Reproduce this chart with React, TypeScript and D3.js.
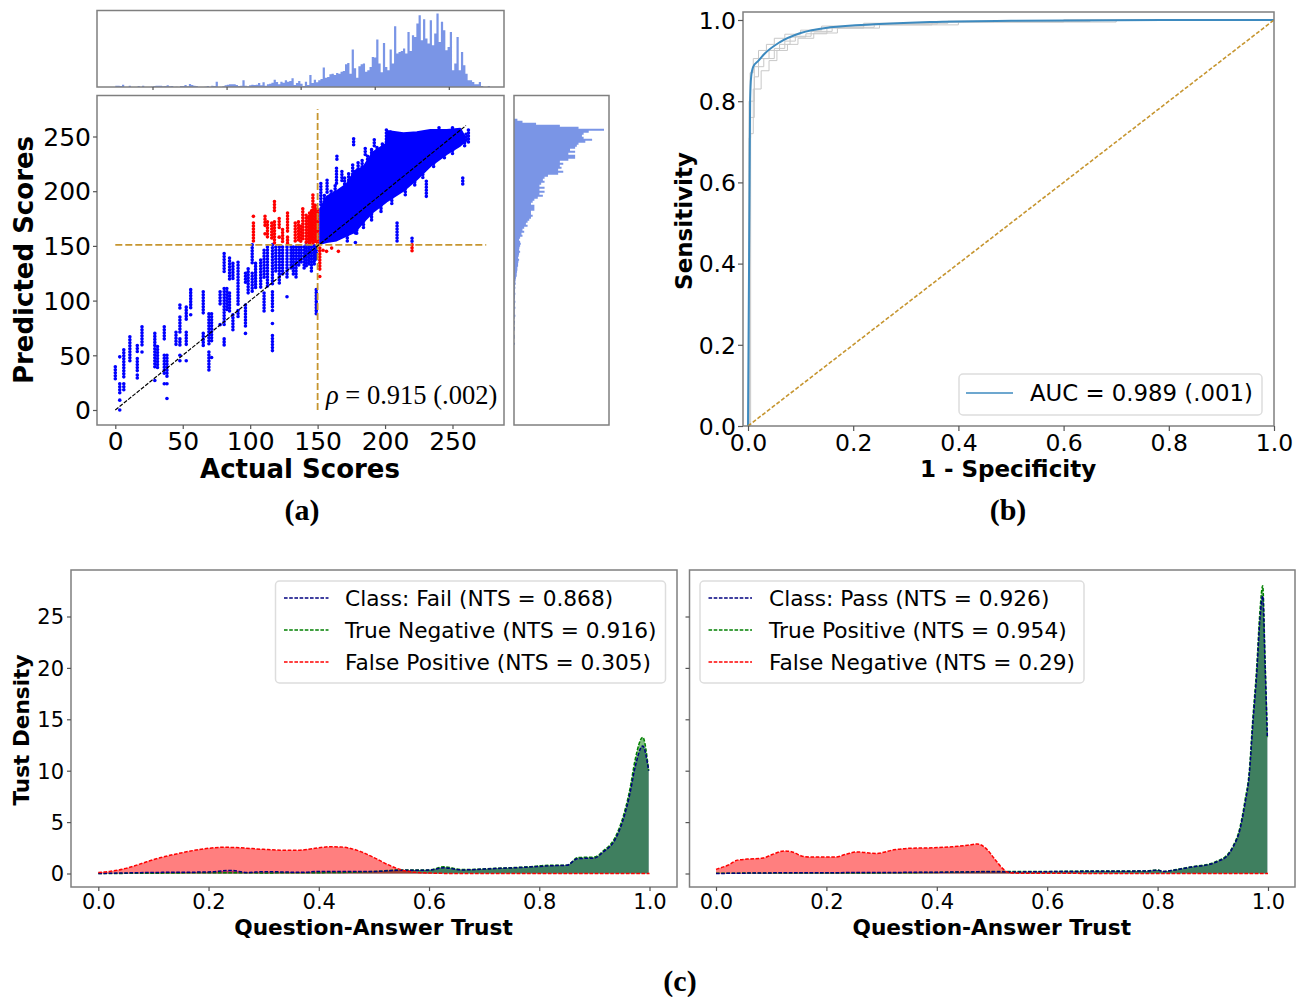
import { useEffect, useRef } from 'react';
import * as d3 from 'd3';

type Pt = [number, number];
type Run = [number, number, number];

// (a) marginal histograms, bar lengths
const topHistCounts = [
  4, 4, 3, 7, 0, 0, 4, 0, 0, 0, 3, 0, 4, 0, 0, 0, 1, 3, 4, 4, 4, 2, 3, 5, 2, 3, 0, 1, 0, 3, 3, 6,
  2, 9, 6, 4, 3, 0, 0, 0, 1, 3, 0, 4, 3, 16, 0, 0, 2, 5, 7, 8, 8, 8, 6, 3, 4, 20, 4, 2, 5, 7, 6, 7,
  12, 5, 14, 4, 8, 10, 13, 22, 15, 8, 16, 13, 20, 16, 18, 26, 6, 12, 18, 10, 3, 16, 6, 36, 12, 22, 14, 20, 24, 58, 28,
  30, 38, 40, 36, 42, 40, 46, 48, 68, 72, 40, 112, 56, 28, 62, 68, 70, 46, 50, 60, 90, 88, 142, 70, 44, 132, 60, 50,
  112, 70, 182, 100, 105, 108, 115, 100, 165, 108, 155, 150, 190, 215, 140, 203, 145, 130, 200, 125, 160, 220, 135,
  195, 170, 110, 120, 165, 50, 70, 150, 50, 105, 65, 40, 20, 20, 15, 8, 8, 15, 3, 0, 0, 3,
];
const rightHistCounts = [
  10, 25, 65, 135, 190, 265, 220, 205, 200, 205, 230, 210, 190, 185, 180, 165, 180, 160, 180, 180, 160, 135, 145, 135,
  140, 130, 145, 130, 100, 90, 85, 90, 80, 75, 90, 75, 90, 75, 85, 70, 60, 55, 50, 60, 60, 60, 50, 50, 55, 50, 45, 40,
  35, 40, 30, 25, 30, 22, 25, 18, 15, 18, 20, 18, 16, 15, 18, 15, 14, 12, 15, 13, 12, 12, 10, 10, 9, 8, 8, 6, 5, 4, 5,
  3, 4, 3, 3, 4, 3, 3, 2, 4, 3, 2, 4, 2, 2, 2, 4, 2, 0, 3, 2, 0, 3, 2, 0, 0, 2, 2, 0, 0, 3, 0, 3,
];

// (a) dense blue band: actual score with the top and bottom predicted score
const bandActual = [151.9, 156.8, 164, 171.6, 177.8, 184, 191, 200.5, 201.5, 213.6, 223.6, 233.6, 245.8, 255.7, 258.7];
const bandTop = [184, 195, 200, 206.6, 218.8, 222, 235.6, 243, 255, 253, 254, 256, 256, 257, 250.7];
const bandBottom = [152, 153.5, 155, 159.5, 162.8, 172, 181, 190, 191, 200.5, 211, 223, 234, 241.7, 245];

// (a) columns of points: [actual, predicted from, predicted to]
const bandEdgeRuns: Run[] = [
  [155, 196, 188], [160, 200, 190], [163, 205, 195], [170, 212, 200], [173, 216, 205], [176, 224, 212], [180, 226, 215], [183, 228, 220],
  [187, 232, 224], [190, 238, 230], [194, 240, 233], [198, 243, 236], [201, 256, 244], [204, 254, 245], [240, 258, 250], [250, 258, 250],
  [260, 252, 245], [259, 247, 240], [250, 240, 232], [244, 236, 228], [236, 228, 220], [228, 218, 210], [222, 214, 205], [215, 205, 196],
  [205, 197, 188], [197, 187, 180], [190, 182, 173], [184, 175, 165], [178, 170, 160], [172, 160, 153],
];
const lowScoreRuns: Run[] = [
  [0, 39.5, 26], [3.3, 48.6, 48.6], [3.3, 24, 15], [3.3, 9, 9], [3.3, 0, 0], [6.3, 55, 30], [6.3, 24, 18], [10.8, 67, 44],
  [16.3, 59, 52], [16.3, 47, 36], [16.3, 32, 27], [19.8, 76, 59], [19.8, 53, 53], [29.3, 70, 59], [29.3, 56, 38], [29.3, 27, 27],
  [31.3, 58, 38], [36.3, 76, 64], [36.3, 50, 33], [36.3, 24, 24], [38.3, 50, 30], [38.3, 24, 24], [38.3, 10.5, 10.5],
  [45, 71, 59], [47.9, 96, 93], [47.9, 85, 70], [47.9, 65, 59], [47.9, 50, 50], [47.9, 45, 45], [52.6, 94, 82], [52.6, 71, 59],
  [52.6, 45, 42.5], [55.9, 110, 93], [55.9, 87, 87], [65.2, 108, 88], [65.2, 70, 58], [69.4, 88, 59], [69.4, 53, 36],
  [71.4, 88, 61], [71.4, 48, 48], [77.7, 108, 96], [77.7, 78, 78], [80.7, 143, 125], [80.7, 111, 76], [80.7, 65, 59],
  [82.7, 111, 91], [84.7, 139, 119], [84.7, 107, 88], [87.2, 134, 119], [87.2, 87, 73], [91, 135, 96], [91, 91, 84],
  [96.5, 125, 116], [96.5, 96, 76], [96.5, 70, 70],
];
const midScoreRuns: Run[] = [
  [98.5, 129, 107], [101.5, 151, 134], [101.5, 125, 107], [104, 134, 111], [107.8, 137, 111], [110.3, 146, 119], [110.3, 107, 88],
  [112.8, 149, 113], [116.5, 151, 114], [116.5, 108, 94], [116.5, 91, 91], [116.5, 79, 77], [116.5, 68, 52], [119, 149, 125],
  [121.6, 149, 114], [124, 149, 122], [127.3, 149, 120], [127.3, 103.5, 103.5], [130.3, 149, 128], [132, 149, 124], [134, 149, 120],
  [136, 149, 130], [137.8, 149, 133], [140, 149, 128], [141.6, 151, 131], [143.5, 150, 131], [145.4, 149, 126], [147.5, 150, 132],
  [149, 110, 88], [149, 149, 137],
];
const upperOutlierRuns: Run[] = [
  [176.7, 248, 242], [192, 247, 241], [185.3, 239, 232], [164.3, 232, 227], [164, 221, 207], [168, 218, 209], [157, 210, 198],
  [152.4, 207, 187], [230.6, 209, 195], [257.6, 212, 204], [261.8, 256, 244], [208.9, 171, 152], [178, 153, 153], [179, 167, 161],
  [220, 157, 154],
];
const redRuns: Run[] = [
  [102.4, 177, 177], [102.4, 171, 152], [111, 177, 168], [111, 161, 161], [112.8, 172, 158], [116, 171, 155], [118, 190.5, 181],
  [118, 172, 152], [121.5, 175, 164.5], [121.5, 158, 158], [124, 165, 152], [127.7, 180, 161], [127.7, 158, 152], [133.4, 171, 154],
  [135.8, 172, 154], [137.5, 168, 153], [139, 184, 154], [141.5, 178, 152], [143, 176, 152], [144, 180, 152], [145.5, 182, 152],
  [146.5, 196.5, 152], [148.2, 187, 152], [150, 183, 152],
];
const redLowerRuns: Run[] = [
  [151.6, 148, 128], [151.6, 122, 122], [154, 146, 146], [156.6, 145, 145], [160.4, 148, 148], [165.4, 145, 145], [220, 151, 143],
];

// (b) ROC curves as [1 - specificity, sensitivity]
const rocMean: Pt[] = [
  [0, 0], [0.003, 0.6], [0.004, 0.8], [0.006, 0.86], [0.01, 0.885], [0.02, 0.9], [0.03, 0.915], [0.06, 0.945], [0.1, 0.968],
  [0.156, 0.982], [0.25, 0.99], [0.346, 0.995], [0.5, 0.998], [0.8, 1], [1, 1],
];
const rocFoldA: Pt[] = [[0, 0], [0.002, 0.71], [0.005, 0.8], [0.012, 0.885], [0.02, 0.905], [0.04, 0.925], [0.06, 0.94], [0.08, 0.958], [0.11, 0.966], [0.15, 0.98], [0.22, 0.988], [0.35, 0.995], [0.6, 1], [1, 1]];
const rocFoldB: Pt[] = [[0, 0], [0.005, 0.72], [0.01, 0.83], [0.025, 0.875], [0.04, 0.9], [0.055, 0.925], [0.075, 0.94], [0.095, 0.955], [0.125, 0.968], [0.17, 0.98], [0.25, 0.988], [0.4, 0.996], [0.65, 1], [1, 1]];
const rocFoldC: Pt[] = [[0, 0], [0.002, 0.8], [0.004, 0.87], [0.01, 0.905], [0.02, 0.925], [0.035, 0.94], [0.05, 0.955], [0.07, 0.965], [0.1, 0.975], [0.14, 0.985], [0.22, 0.992], [0.38, 0.997], [0.6, 1], [1, 1]];
const rocFoldD: Pt[] = [[0, 0], [0.003, 0.76], [0.012, 0.86], [0.02, 0.885], [0.03, 0.905], [0.05, 0.93], [0.07, 0.948], [0.09, 0.96], [0.12, 0.972], [0.16, 0.982], [0.24, 0.99], [0.36, 0.995], [0.7, 1], [1, 1]];

// (c) trust densities as [trust, density]
const failClass: Pt[] = [
  [0, 0], [0.1, 0.1], [0.2, 0.15], [0.24, 0.3], [0.27, 0.1], [0.3, 0.18], [0.37, 0.12], [0.4, 0.2], [0.5, 0.2], [0.55, 0.32], [0.6, 0.33],
  [0.627, 0.55], [0.66, 0.35], [0.72, 0.48], [0.78, 0.62], [0.82, 0.75], [0.85, 0.8], [0.87, 1.45], [0.9, 1.5], [0.9162, 2.1], [0.9375, 3.3],
  [0.952, 5.2], [0.9646, 7.8], [0.9737, 10.3], [0.9877, 12.4], [0.9985, 10],
];
const trueNegative: Pt[] = [
  [0, 0], [0.1, 0.03], [0.2, 0.08], [0.3, 0.06], [0.4, 0.08], [0.5, 0.2], [0.55, 0.35], [0.6, 0.35], [0.627, 0.65], [0.66, 0.38], [0.72, 0.5],
  [0.78, 0.65], [0.82, 0.8], [0.85, 0.8], [0.87, 1.55], [0.9, 1.6], [0.9162, 2.2], [0.9375, 3.5], [0.952, 5.5], [0.9646, 8.25], [0.9737, 11],
  [0.9877, 13.25], [0.9985, 10],
];
const falsePositive: Pt[] = [
  [0, 0.1], [0.02, 0.2], [0.05, 0.5], [0.08, 1], [0.1, 1.35], [0.15, 2], [0.2, 2.45], [0.225, 2.55], [0.25, 2.52], [0.3, 2.35], [0.33, 2.27],
  [0.36, 2.25], [0.39, 2.42], [0.42, 2.6], [0.44, 2.58], [0.47, 2.25], [0.5, 1.55], [0.53, 0.75], [0.55, 0.35], [0.57, 0.15], [0.6, 0.05], [0.65, 0], [1, 0],
];
const passClass: Pt[] = [
  [0, 0], [0.1, 0.06], [0.2, 0.08], [0.3, 0.1], [0.45, 0.15], [0.5, 0.18], [0.53, 0.15], [0.6, 0.18], [0.7, 0.22], [0.78, 0.24], [0.8, 0.33], [0.81, 0.2],
  [0.84, 0.42], [0.864, 0.65], [0.895, 0.9], [0.91, 1.2], [0.925, 1.65], [0.937, 2.6], [0.9493, 4.3], [0.9583, 6.8], [0.9662, 9.7], [0.9723, 14.4],
  [0.9795, 19.4], [0.9855, 24.8], [0.9904, 27], [0.9946, 20.5], [0.9988, 13.2],
];
const truePositive: Pt[] = [
  [0, 0.02], [0.1, 0.05], [0.3, 0.06], [0.45, 0.15], [0.5, 0.2], [0.53, 0.2], [0.6, 0.2], [0.7, 0.25], [0.78, 0.25], [0.8, 0.35], [0.81, 0.2],
  [0.84, 0.45], [0.864, 0.68], [0.895, 0.94], [0.91, 1.26], [0.925, 1.75], [0.937, 2.7], [0.9493, 4.5], [0.9583, 7.1], [0.9662, 10], [0.9723, 14.9],
  [0.9795, 20], [0.9855, 25.6], [0.9904, 28], [0.9946, 21], [0.9988, 13.3],
];
const falseNegative: Pt[] = [
  [0, 0.4], [0.021, 0.8], [0.039, 1.3], [0.057, 1.4], [0.085, 1.5], [0.102, 1.85], [0.124, 2.2], [0.138, 2.1], [0.159, 1.65], [0.18, 1.6], [0.216, 1.6],
  [0.237, 1.9], [0.254, 2.1], [0.29, 1.95], [0.322, 2.3], [0.35, 2.45], [0.392, 2.5], [0.428, 2.6], [0.456, 2.75], [0.473, 2.87], [0.488, 2.5],
  [0.505, 1.4], [0.519, 0.5], [0.53, 0.1], [0.555, 0.02], [1, 0],
];

const scoreTicks = [0, 50, 100, 150, 200, 250];
const rateTicks = [0, 0.2, 0.4, 0.6, 0.8, 1];
const densityTicks = [0, 5, 10, 15, 20, 25];
const failLegend = ['Class: Fail (NTS = 0.868)', 'True Negative (NTS = 0.916)', 'False Positive (NTS = 0.305)'];
const passLegend = ['Class: Pass (NTS = 0.926)', 'True Positive (NTS = 0.954)', 'False Negative (NTS = 0.29)'];

const SANS = '"DejaVu Sans", sans-serif';
const SERIF = '"Liberation Serif", serif';
const SPINE = '#7f7f7f';
const HIST = '#7a95e6';
const ORANGE = '#c6952f';
const LEGEND_EDGE = '#dddddd';

type Sel = d3.Selection<SVGGElement, unknown, null, undefined>;

function frame(g: Sel, x0: number, y0: number, x1: number, y1: number) {
  g.append('rect')
    .attr('x', x0).attr('y', y0).attr('width', x1 - x0).attr('height', y1 - y0)
    .attr('fill', 'none').attr('stroke', SPINE).attr('stroke-width', 1.5);
}

function styleAxis(a: Sel, size: number) {
  a.select('.domain').remove();
  a.selectAll('line').attr('stroke', '#555').attr('stroke-width', 1.2);
  a.selectAll('text').attr('font-family', SANS).attr('font-size', size).attr('fill', '#000');
}

function axisLabel(g: Sel, text: string, x: number, y: number, size: number, rotate = false) {
  g.append('text')
    .attr('transform', `translate(${x},${y})${rotate ? ' rotate(-90)' : ''}`)
    .attr('text-anchor', 'middle')
    .attr('font-family', SANS).attr('font-weight', 'bold').attr('font-size', size)
    .text(text);
}

function panelLabel(g: Sel, text: string, x: number, y: number) {
  g.append('text')
    .attr('x', x).attr('y', y).attr('text-anchor', 'middle')
    .attr('font-family', SERIF).attr('font-weight', 'bold').attr('font-size', 30)
    .text(text);
}

function drawScatter(g: Sel) {
  const x = d3.scaleLinear().domain([0, 250]).range([115.3, 452.5]);
  const y = d3.scaleLinear().domain([0, 250]).range([410, 136.5]);

  // top histogram, one stepped path so the bins do not show seams
  const topX = d3.scaleLinear().domain([0, topHistCounts.length]).range([115.3, 115.3 + 2.23 * topHistCounts.length]);
  const topY = d3.scaleLinear().domain([0, d3.max(topHistCounts) as number]).range([87, 13.5]);
  const topArea = d3.area<number>()
    .x((_, i) => topX(i)).y0(87).y1(d => topY(d)).curve(d3.curveStepAfter);
  g.append('path').attr('d', topArea([...topHistCounts, 0])).attr('fill', HIST);
  frame(g, 97, 10.5, 504, 87);
  const topTicks = d3.scaleLinear().domain([50, 250]).range([152.5, 448.8]);
  const topAxis = g.append('g').attr('transform', 'translate(0,87)')
    .call(d3.axisBottom(topTicks).tickValues([50, 100, 150, 200, 250]).tickSize(3).tickFormat(() => ''));
  styleAxis(topAxis, 1);

  // right histogram
  const rightY = d3.scaleLinear().domain([0, rightHistCounts.length]).range([116.7, 116.7 + 2 * rightHistCounts.length]);
  const rightX = d3.scaleLinear().domain([0, d3.max(rightHistCounts) as number]).range([514, 604]);
  const rightArea = d3.area<number>()
    .y((_, i) => rightY(i)).x0(514).x1(d => rightX(d)).curve(d3.curveStepBefore);
  g.append('path').attr('d', rightArea([0, ...rightHistCounts])).attr('fill', HIST);
  frame(g, 514, 95.5, 609, 425);

  // dense band of correctly classified passes
  const band = d3.area<number>()
    .x(d => x(d))
    .y0((_, i) => y(bandBottom[i]))
    .y1((_, i) => y(bandTop[i]));
  g.append('path').attr('d', band(bandActual))
    .attr('fill', '#0000ff').attr('stroke', '#0000ff').attr('stroke-width', 2).attr('stroke-linejoin', 'round');

  // a zero-length dash with a round cap leaves one dot per score in the column
  const drawRuns = (runs: Run[], color: string) => {
    g.append('g').selectAll('path').data(runs).join('path')
      .attr('d', d => d3.line()([[x(d[0]), y(d[1])], [x(d[0]), y(d[2])]]))
      .attr('stroke', color).attr('stroke-width', 3.6).attr('stroke-linecap', 'round')
      .attr('stroke-dasharray', '0,3').attr('fill', 'none');
  };
  drawRuns(bandEdgeRuns, '#0000ff');
  drawRuns(lowScoreRuns, '#0000ff');
  drawRuns(midScoreRuns, '#0000ff');
  drawRuns(upperOutlierRuns, '#0000ff');
  drawRuns(redRuns, '#ff0000');
  drawRuns(redLowerRuns, '#ff0000');

  const guide = d3.line();
  g.append('path').attr('d', guide([[x(0), y(151)], [x(275), y(151)]]))
    .attr('stroke', ORANGE).attr('stroke-width', 1.8).attr('stroke-dasharray', '7,3').attr('fill', 'none');
  g.append('path').attr('d', guide([[x(150), y(0)], [x(150), y(275)]]))
    .attr('stroke', ORANGE).attr('stroke-width', 1.8).attr('stroke-dasharray', '7,3').attr('fill', 'none');
  g.append('path').attr('d', guide([[x(0), y(0)], [x(260), y(260)]]))
    .attr('stroke', '#000').attr('stroke-width', 1.2).attr('stroke-dasharray', '4,1.5').attr('fill', 'none');

  frame(g, 97, 95.5, 504, 425);

  const bottom = g.append('g').attr('transform', 'translate(0,425)')
    .call(d3.axisBottom(x).tickValues(scoreTicks).tickSize(4).tickPadding(3));
  styleAxis(bottom, 25);
  const left = g.append('g').attr('transform', 'translate(97,0)')
    .call(d3.axisLeft(y).tickValues(scoreTicks).tickSize(4).tickPadding(2));
  styleAxis(left, 25);
  left.selectAll('text').attr('dy', '0.35em');

  axisLabel(g, 'Actual Scores', 300, 478, 26);
  axisLabel(g, 'Predicted Scores', 33, 260, 26, true);

  const rho = g.append('text').attr('x', 326).attr('y', 404)
    .attr('font-family', SERIF).attr('font-size', 26.5);
  rho.append('tspan').attr('font-style', 'italic').text('ρ');
  rho.append('tspan').text(' = 0.915 (.002)');

  panelLabel(g, '(a)', 302, 520);
}

function drawRoc(g: Sel) {
  const x = d3.scaleLinear().domain([0, 1]).range([748, 1274]);
  const y = d3.scaleLinear().domain([0, 1]).range([426, 20]);

  const step = d3.line<Pt>().x(d => x(d[0])).y(d => y(d[1])).curve(d3.curveStepAfter);
  [rocFoldA, rocFoldB, rocFoldC, rocFoldD].forEach(fold => {
    g.append('path').attr('d', step(fold))
      .attr('fill', 'none').attr('stroke', '#c8c8c8').attr('stroke-width', 1);
  });
  const curve = d3.line<Pt>().x(d => x(d[0])).y(d => y(d[1])).curve(d3.curveMonotoneX);
  g.append('path').attr('d', curve(rocMean))
    .attr('fill', 'none').attr('stroke', '#3d8abf').attr('stroke-width', 2);
  g.append('path').attr('d', d3.line()([[x(0), y(0)], [x(1), y(1)]]))
    .attr('fill', 'none').attr('stroke', ORANGE).attr('stroke-width', 1.6).attr('stroke-dasharray', '4,2');

  frame(g, 743, 12, 1274, 426);

  const bottom = g.append('g').attr('transform', 'translate(0,426)')
    .call(d3.axisBottom(x).tickValues(rateTicks).tickSize(5).tickPadding(3).tickFormat(d3.format('.1f')));
  styleAxis(bottom, 23.5);
  const left = g.append('g').attr('transform', 'translate(743,0)')
    .call(d3.axisLeft(y).tickValues(rateTicks).tickSize(5).tickPadding(2).tickFormat(d3.format('.1f')));
  styleAxis(left, 23.5);
  left.selectAll('text').attr('dy', '0.35em');

  axisLabel(g, '1 - Specificity', 1008, 477, 23);
  axisLabel(g, 'Sensitivity', 692, 221, 23, true);

  g.append('rect').attr('x', 959).attr('y', 374).attr('width', 303).attr('height', 41).attr('rx', 4)
    .attr('fill', '#fff').attr('stroke', LEGEND_EDGE).attr('stroke-width', 1.5);
  g.append('path').attr('d', d3.line()([[966, 393], [1013, 393]]))
    .attr('stroke', '#3d8abf').attr('stroke-width', 1.5);
  g.append('text').attr('x', 1030).attr('y', 401)
    .attr('font-family', SANS).attr('font-size', 22.8).text('AUC = 0.989 (.001)');

  panelLabel(g, '(b)', 1008, 520);
}

function drawDensity(
  g: Sel,
  box: [number, number],
  xRange: [number, number],
  series: [Pt[], Pt[], Pt[]],
  legend: string[],
  legendBox: [number, number, number, number],
  showLabels: boolean,
) {
  const x = d3.scaleLinear().domain([0, 1]).range(xRange);
  const y = d3.scaleLinear().domain([0, 25]).range([873.5, 616.5]);
  const colors = ['#000080', '#008000', '#ff0000'];

  const area = d3.area<Pt>().x(d => x(d[0])).y0(y(0)).y1(d => y(d[1])).curve(d3.curveMonotoneX);
  const line = d3.line<Pt>().x(d => x(d[0])).y(d => y(d[1])).curve(d3.curveMonotoneX);

  series.forEach((s, i) => {
    g.append('path').attr('d', area(s)).attr('fill', colors[i]).attr('fill-opacity', 0.5);
  });
  [1, 0, 2].forEach(i => {
    g.append('path').attr('d', line(series[i]))
      .attr('fill', 'none').attr('stroke', colors[i]).attr('stroke-width', 1.5).attr('stroke-dasharray', '3.6,1.6');
  });

  frame(g, box[0], 570, box[1], 887);

  const bottom = g.append('g').attr('transform', 'translate(0,887)')
    .call(d3.axisBottom(x).tickValues(rateTicks).tickSize(4).tickPadding(3).tickFormat(d3.format('.1f')));
  styleAxis(bottom, 21);
  const left = g.append('g').attr('transform', `translate(${box[0]},0)`)
    .call(d3.axisLeft(y).tickValues(densityTicks).tickSize(4).tickPadding(3)
      .tickFormat(d => (showLabels ? String(d) : '')));
  styleAxis(left, 21);
  left.selectAll('text').attr('dy', '0.35em');

  axisLabel(g, 'Question-Answer Trust', (box[0] + box[1]) / 2 - 0.5, 935, 21.7);

  const [lx0, lx1, lineEnd, textX] = legendBox;
  g.append('rect').attr('x', lx0).attr('y', 581).attr('width', lx1 - lx0).attr('height', 102).attr('rx', 4)
    .attr('fill', '#fff').attr('stroke', LEGEND_EDGE).attr('stroke-width', 1.5);
  legend.forEach((label, i) => {
    const ly = 598 + i * 32;
    g.append('path').attr('d', d3.line()([[lx0 + 8.5, ly], [lineEnd, ly]]))
      .attr('stroke', colors[i]).attr('stroke-width', 1.4).attr('stroke-dasharray', '3.6,1.6');
    g.append('text').attr('x', textX).attr('y', ly + 8)
      .attr('font-family', SANS).attr('font-size', 21.7).text(label);
  });
}

export default function App() {
  const svgRef = useRef<SVGSVGElement | null>(null);

  useEffect(() => {
    const svg = d3.select(svgRef.current as SVGSVGElement);
    svg.selectAll('*').remove();
    const root = svg.append('g') as unknown as Sel;

    drawScatter(root);
    drawRoc(root);
    drawDensity(root, [71, 677], [98.3, 649.5], [failClass, trueNegative, falsePositive], failLegend, [275.5, 665.5, 328.5, 345], true);
    drawDensity(root, [689.5, 1295], [716, 1268], [passClass, truePositive, falseNegative], passLegend, [700, 1084, 752, 769], false);

    axisLabel(root, 'Tust Density', 29, 730, 21.6, true);
    panelLabel(root, '(c)', 680, 991);
  }, []);

  return (
    <svg
      ref={svgRef}
      width={1306}
      height={997}
      style={{ position: 'absolute', left: 0, top: 0, background: '#fff' }}
    />
  );
}
